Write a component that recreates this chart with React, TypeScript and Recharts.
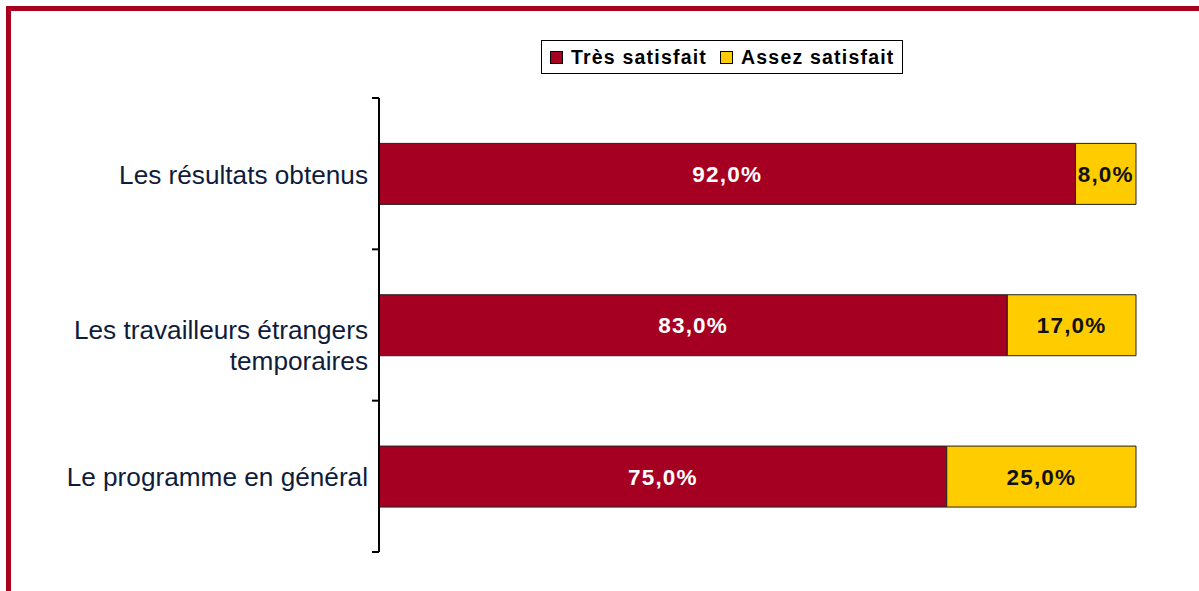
import React from "react";
import { BarChart, Bar, XAxis, YAxis, Legend, LabelList } from "recharts";

const categories = [
  "Les résultats obtenus",
  "Les travailleurs étrangers\ntemporaires",
  "Le programme en général",
];
const tresSatisfait = [92, 83, 75];
const assezSatisfait = [8, 17, 25];
const seriesNames = ["Très satisfait", "Assez satisfait"];

const data = categories.map((name, i) => ({
  name,
  tres: tresSatisfait[i],
  assez: assezSatisfait[i],
}));

const RED = "#A50021";
const YELLOW = "#FFCC00";
const FONT = '"Liberation Sans", Arial, sans-serif';

const pct = (v: any) => `${Number(v).toFixed(1).replace(".", ",")}%`;

const CategoryTick = (props: any) => {
  const { x, y, payload, index, visibleTicksCount, height } = props;
  const count = visibleTicksCount || categories.length;
  const band = (height || 454) / count;
  const axisX = x + 11;
  const lines = String(payload.value).split("\n");
  const firstDy = lines.length === 1 ? 10 : 14;
  return (
    <g>
      <line x1={axisX - 7} x2={axisX} y1={y - band / 2} y2={y - band / 2} stroke="#000" strokeWidth={2} />
      {index === count - 1 && (
        <line x1={axisX - 7} x2={axisX} y1={y + band / 2} y2={y + band / 2} stroke="#000" strokeWidth={2} />
      )}
      <text x={x} y={y} textAnchor="end" fill="#0F1C3A" fontSize={26.2} fontFamily={FONT}>
        {lines.map((l, i) => (
          <tspan key={i} x={x} dy={i === 0 ? firstDy : 31}>
            {l}
          </tspan>
        ))}
      </text>
    </g>
  );
};

const LegendBox = () => {
  const colors = [RED, YELLOW];
  return (
    <div
      style={{
        display: "flex",
        alignItems: "center",
        border: "1.5px solid #000",
        height: 32,
        padding: "0 7px 0 8px",
        background: "#fff",
        fontFamily: FONT,
        fontWeight: "bold",
        fontSize: 19.5,
        letterSpacing: 1.2,
        color: "#000",
        whiteSpace: "nowrap",
      }}
    >
      {seriesNames.map((n, i) => (
        <span key={n} style={{ display: "flex", alignItems: "center", marginLeft: i === 0 ? 0 : 13 }}>
          <span
            style={{
              display: "inline-block",
              width: 11,
              height: 11,
              background: colors[i],
              border: "1px solid #000",
              marginRight: 8,
            }}
          />
          {n}
        </span>
      ))}
    </div>
  );
};

export default function App() {
  return (
    <div style={{ position: "absolute", left: 0, top: 0, width: 1199, height: 591, background: "#fff" }}>
      <div
        style={{
          position: "absolute",
          left: 6,
          top: 6,
          right: 0,
          bottom: 0,
          borderTop: "5px solid #A8001F",
          borderLeft: "5px solid #A8001F",
        }}
      />
      <div style={{ position: "absolute", left: 0, top: 0 }}>
        <BarChart
          width={1199}
          height={591}
          data={data}
          layout="vertical"
          barCategoryGap="30%"
          margin={{ top: 64, right: 63, left: 0, bottom: 39 }}
        >
          <XAxis type="number" domain={[0, 100]} hide />
          <YAxis
            type="category"
            dataKey="name"
            width={379}
            axisLine={{ stroke: "#000", strokeWidth: 2 }}
            tickLine={false}
            tickMargin={5}
            tick={<CategoryTick />}
            interval={0}
          />
          <Legend
            verticalAlign="top"
            content={<LegendBox />}
            wrapperStyle={{ top: 40, left: 541, width: "auto" }}
          />
          <Bar dataKey="tres" name={seriesNames[0]} stackId="a" fill={RED} stroke="#222" strokeWidth={1} isAnimationActive={false}>
            <LabelList
              dataKey="tres"
              position="center"
              formatter={pct}
              fill="#fff"
              fontSize={22.5}
              fontWeight="bold"
              fontFamily={FONT}
              letterSpacing={1.2}
            />
          </Bar>
          <Bar dataKey="assez" name={seriesNames[1]} stackId="a" fill={YELLOW} stroke="#222" strokeWidth={1} isAnimationActive={false}>
            <LabelList
              dataKey="assez"
              position="center"
              formatter={pct}
              fill="#111"
              fontSize={22.5}
              fontWeight="bold"
              fontFamily={FONT}
              letterSpacing={1.2}
            />
          </Bar>
        </BarChart>
      </div>
    </div>
  );
}
